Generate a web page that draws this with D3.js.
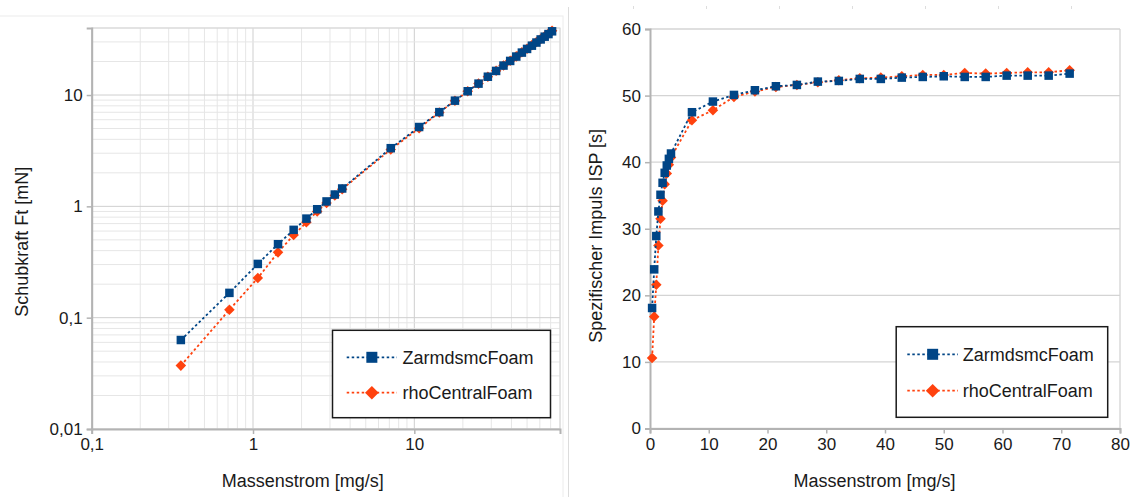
<html>
<head>
    <style>
        body { margin: 0; background: white; }
        svg { font-family: "Liberation Sans", Arial, sans-serif; }
    </style>
    <script src="https://d3js.org/d3.v7.min.js"></script>
</head>
<body>
<svg id="chart" width="1132" height="497"></svg>
<script>
    // mass flow [mg/s], shared by both charts and both series
    let massFlow = [0.357, 0.714, 1.071, 1.429, 1.786, 2.143, 2.5, 2.857, 3.214, 3.571,
        7.143, 10.71, 14.29, 17.86, 21.43, 25, 28.57, 32.14, 35.71, 39.29,
        42.86, 46.43, 50, 53.57, 57.14, 60.71, 64.29, 67.86, 71.43]

    // thrust Ft [mN]
    let thrustZarm = [0.063, 0.167, 0.304, 0.457, 0.615, 0.776, 0.942, 1.107, 1.277, 1.447,
        3.33, 5.16, 7.02, 8.90, 10.81, 12.66, 14.60, 16.46, 18.39, 20.24,
        22.16, 24.05, 25.95, 27.75, 29.60, 31.57, 33.43, 35.28, 37.35]
    let thrustRho = [0.0371, 0.1177, 0.227, 0.386, 0.552, 0.719, 0.900, 1.073, 1.249, 1.426,
        3.24, 5.02, 6.98, 8.87, 10.79, 12.66, 14.57, 16.49, 18.43, 20.31,
        22.24, 24.19, 26.05, 28.06, 29.88, 31.80, 33.74, 35.62, 37.70]

    // specific impulse ISP [s]
    let ispZarm = [18.1, 23.9, 28.9, 32.6, 35.1, 36.9, 38.4, 39.5, 40.5, 41.3,
        47.5, 49.1, 50.1, 50.8, 51.4, 51.6, 52.1, 52.2, 52.5, 52.5,
        52.7, 52.8, 52.9, 52.8, 52.8, 53.0, 53.0, 53.0, 53.3]
    let ispRho = [10.6, 16.8, 21.6, 27.5, 31.5, 34.2, 36.7, 38.3, 39.6, 40.7,
        46.3, 47.8, 49.8, 50.6, 51.3, 51.6, 52.0, 52.3, 52.6, 52.7,
        52.9, 53.1, 53.1, 53.4, 53.3, 53.4, 53.5, 53.5, 53.8]

    let seriesNames = ["ZarmdsmcFoam", "rhoCentralFoam"]
    let logTicksX = [0.1, 1, 10]
    let logTicksY = [0.01, 0.1, 1, 10]
    let linTicksX = [0, 10, 20, 30, 40, 50, 60, 70, 80]
    let linTicksY = [0, 10, 20, 30, 40, 50, 60]

    let colors = ["#004586", "#ff420e"]
    let svg = d3.select("#chart")

    function fmt(v) {
        return String(v).replace(".", ",")
    }

    function drawMarker(g, i, x, y, size) {
        if (i == 0) {
            g.append("rect")
                .attr("x", x - size / 2).attr("y", y - size / 2)
                .attr("width", size).attr("height", size)
                .attr("fill", colors[0])
        } else {
            let s = size * 0.62
            g.append("path")
                .attr("d", `M${x},${y - s}L${x + s},${y}L${x},${y + s}L${x - s},${y}Z`)
                .attr("fill", colors[1])
        }
    }

    function drawSeries(g, xScale, yScale, ys, i) {
        let pts = massFlow.map((m, k) => [xScale(m), yScale(ys[k])])
        g.append("path")
            .attr("d", d3.line()(pts))
            .attr("fill", "none")
            .attr("stroke", colors[i])
            .attr("stroke-width", 1.8)
            .attr("stroke-dasharray", "2.5,2.5")
        pts.forEach(p => drawMarker(g, i, p[0], p[1], 8.5))
    }

    function drawLegend(g, box) {
        g.append("rect")
            .attr("x", box.x).attr("y", box.y)
            .attr("width", box.w).attr("height", box.h)
            .attr("fill", "white").attr("stroke", "#1a1a1a").attr("stroke-width", 1.5)
        seriesNames.forEach((name, i) => {
            let y = box.rows[i]
            g.append("line")
                .attr("x1", box.lx1).attr("x2", box.lx2)
                .attr("y1", y).attr("y2", y)
                .attr("stroke", colors[i]).attr("stroke-width", 1.8)
                .attr("stroke-dasharray", "2.5,2.5")
            drawMarker(g, i, (box.lx1 + box.lx2) / 2, y, 11)
            g.append("text")
                .attr("x", box.tx).attr("y", y)
                .attr("dy", "0.35em")
                .attr("font-size", 18).attr("fill", "#1a1a1a")
                .text(name)
        })
    }

    ////////////////////////////////////////////////////////////////
    // left chart: log-log thrust

    function drawThrustChart() {
        let g = svg.append("g")
        let x = d3.scaleLog().domain([0.1, 80]).range([91.7, 560])
        let y = d3.scaleLog().domain([0.01, 40]).range([429, 28])

        // outer frame + separator
        g.append("rect").attr("x", -2).attr("y", 16).attr("width", 565).attr("height", 500)
            .attr("fill", "none").attr("stroke", "#ececec")
        svg.append("line").attr("x1", 568.5).attr("x2", 568.5).attr("y1", 7).attr("y2", 497)
            .attr("stroke", "#dcdcdc")

        let xt = x.ticks().filter(v => v <= 80)
        let yt = y.ticks().filter(v => v <= 40)
        let isMajor = v => Math.abs(Math.log10(v) - Math.round(Math.log10(v))) < 1e-6

        g.selectAll(".vx").data(xt).enter().append("line")
            .attr("x1", d => x(d)).attr("x2", d => x(d))
            .attr("y1", y.range()[1]).attr("y2", y.range()[0])
            .attr("stroke", d => isMajor(d) ? "#cfcfcf" : "#e6e6e6")
        g.selectAll(".hy").data(yt).enter().append("line")
            .attr("x1", x.range()[0]).attr("x2", x.range()[1])
            .attr("y1", d => y(d)).attr("y2", d => y(d))
            .attr("stroke", d => isMajor(d) ? "#cfcfcf" : "#e6e6e6")

        // plot border
        g.append("rect").attr("x", 91.7).attr("y", 28).attr("width", 560 - 91.7).attr("height", 401)
            .attr("fill", "none").attr("stroke", "#d4d4d4")

        let axisX = d3.axisBottom(x).tickValues(logTicksX).tickFormat(fmt).tickSize(5).tickPadding(4)
        let gx = g.append("g").attr("transform", "translate(0,429)").call(axisX)
        let axisY = d3.axisLeft(y).tickValues(logTicksY).tickFormat(fmt).tickSize(5).tickPadding(4)
        let gy = g.append("g").attr("transform", "translate(91.7,0)").call(axisY)
        styleAxis(gx); styleAxis(gy)

        // rhoCentralFoam underneath, ZarmdsmcFoam on top
        drawSeries(g, x, y, thrustRho, 1)
        drawSeries(g, x, y, thrustZarm, 0)

        g.append("text").attr("x", 302.7).attr("y", 487).attr("text-anchor", "middle")
            .attr("font-size", 18).attr("fill", "#1a1a1a").text("Massenstrom [mg/s]")
        g.append("text").attr("transform", "translate(28,241.7) rotate(-90)").attr("text-anchor", "middle")
            .attr("font-size", 18).attr("fill", "#1a1a1a").text("Schubkraft Ft [mN]")

        drawLegend(g, { x: 332.5, y: 330.3, w: 218, h: 87.4, rows: [357.3, 392.7], lx1: 346.7, lx2: 397, tx: 402.4 })
    }

    ////////////////////////////////////////////////////////////////
    // right chart: specific impulse

    function drawIspChart() {
        let g = svg.append("g")
        let x = d3.scaleLinear().domain([0, 80]).range([650, 1120])
        let y = d3.scaleLinear().domain([0, 60]).range([428.5, 29])

        // faint marks above the chart
        g.selectAll(".topmark").data(linTicksX.slice(0, 7)).enter().append("line")
            .attr("x1", (d, i) => 633.5 + i * 73).attr("x2", (d, i) => 633.5 + i * 73)
            .attr("y1", 6).attr("y2", 9).attr("stroke", "#dddddd")

        g.selectAll(".hy").data(linTicksY).enter().append("line")
            .attr("x1", x.range()[0]).attr("x2", x.range()[1])
            .attr("y1", d => y(d)).attr("y2", d => y(d))
            .attr("stroke", "#d4d4d4").attr("stroke-width", 1.3)
        g.append("line").attr("x1", 1120).attr("x2", 1120).attr("y1", 29).attr("y2", 428.5)
            .attr("stroke", "#d4d4d4").attr("stroke-width", 1.3)

        let axisX = d3.axisBottom(x).tickValues(linTicksX).tickSize(5).tickPadding(4)
        let gx = g.append("g").attr("transform", "translate(0,428.5)").call(axisX)
        let axisY = d3.axisLeft(y).tickValues(linTicksY).tickSize(5).tickPadding(4)
        let gy = g.append("g").attr("transform", "translate(650,0)").call(axisY)
        styleAxis(gx); styleAxis(gy)

        drawSeries(g, x, y, ispRho, 1)
        drawSeries(g, x, y, ispZarm, 0)

        g.append("text").attr("x", 874.5).attr("y", 487).attr("text-anchor", "middle")
            .attr("font-size", 18).attr("fill", "#1a1a1a").text("Massenstrom [mg/s]")
        g.append("text").attr("transform", "translate(602,235.8) rotate(-90)").attr("text-anchor", "middle")
            .attr("font-size", 18).attr("fill", "#1a1a1a").text("Spezifischer Impuls ISP [s]")

        drawLegend(g, { x: 896.2, y: 326.7, w: 211.5, h: 90.6, rows: [354.3, 390.7], lx1: 907.3, lx2: 958, tx: 962.7 })
    }

    function styleAxis(a) {
        a.select(".domain").attr("stroke", "#b3b3b3").attr("stroke-width", 2)
        a.selectAll(".tick line").attr("stroke", "#b3b3b3").attr("stroke-width", 1.5)
        a.selectAll(".tick text").attr("font-size", 17).attr("fill", "#1a1a1a")
            .attr("font-family", "Liberation Sans, Arial, sans-serif")
    }

    drawThrustChart()
    drawIspChart()
</script>
</body>
</html>
